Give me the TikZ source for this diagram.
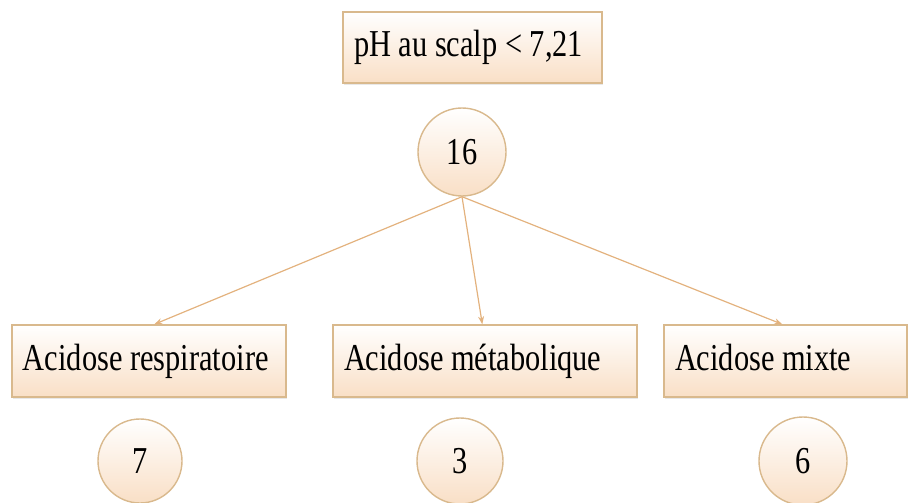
\documentclass[tikz,border=0pt]{standalone}
\usepackage{fontspec}
\setmainfont{Liberation Serif}
\newfontfamily\cond{Liberation Serif}[FakeStretch=0.8]
\newcommand{\boxfont}{\cond\fontsize{38}{40}\selectfont\spaceskip=0.2em\relax}
\newcommand{\lbox}[2]{\makebox[#1][l]{#2}}
\usetikzlibrary{arrows.meta,shadows,calc}
\definecolor{edgetan}{HTML}{D9B98D}
\definecolor{peach}{HTML}{F9DFC6}
\definecolor{arrowtan}{HTML}{E3B27E}
\tikzset{
  box/.style={draw=edgetan, line width=1.4pt, rectangle, top color=white, bottom color=peach,
    font=\boxfont, inner xsep=11pt, inner ysep=0pt,
    text height=27pt, text depth=9pt,
    drop shadow={opacity=0.18, shadow xshift=1pt, shadow yshift=-2pt}},
  count/.style={draw=edgetan, line width=1.4pt, circle, top color=white, bottom color=peach,
    font=\boxfont, inner sep=0pt},
  link/.style={draw=arrowtan, line width=1.2pt, -{Stealth[length=8pt,width=6pt]}}
}
\begin{document}
\begin{tikzpicture}[x=1pt,y=-1pt]
\useasboundingbox (0,0) rectangle (908,503);
\node[box, minimum height=71pt] (top) at (472.5,47.5) {\lbox{237pt}{pH au scalp < 7,21}};
\node[count, minimum size=88pt] (c16) at (462,152) {16};
\node[box, minimum height=72pt] (resp) at (149,361) {\lbox{252pt}{Acidose respiratoire}};
\node[box, minimum height=72pt] (meta) at (485,361) {\lbox{282pt}{Acidose métabolique}};
\node[box, minimum height=72pt] (mixte) at (785.5,361) {\lbox{221pt}{Acidose mixte}};
\node[count, minimum size=84pt] (c7) at (140,461) {7};
\node[count, minimum size=86pt] (c3) at (460,461) {3};
\node[count, minimum size=88pt] (c6) at (803,461) {6};
\draw[link] (c16.south) -- ([xshift=143pt]resp.north west);
\draw[link] (c16.south) -- ([xshift=150pt]meta.north west);
\draw[link] (c16.south) -- ([xshift=119pt]mixte.north west);
\end{tikzpicture}
\end{document}
